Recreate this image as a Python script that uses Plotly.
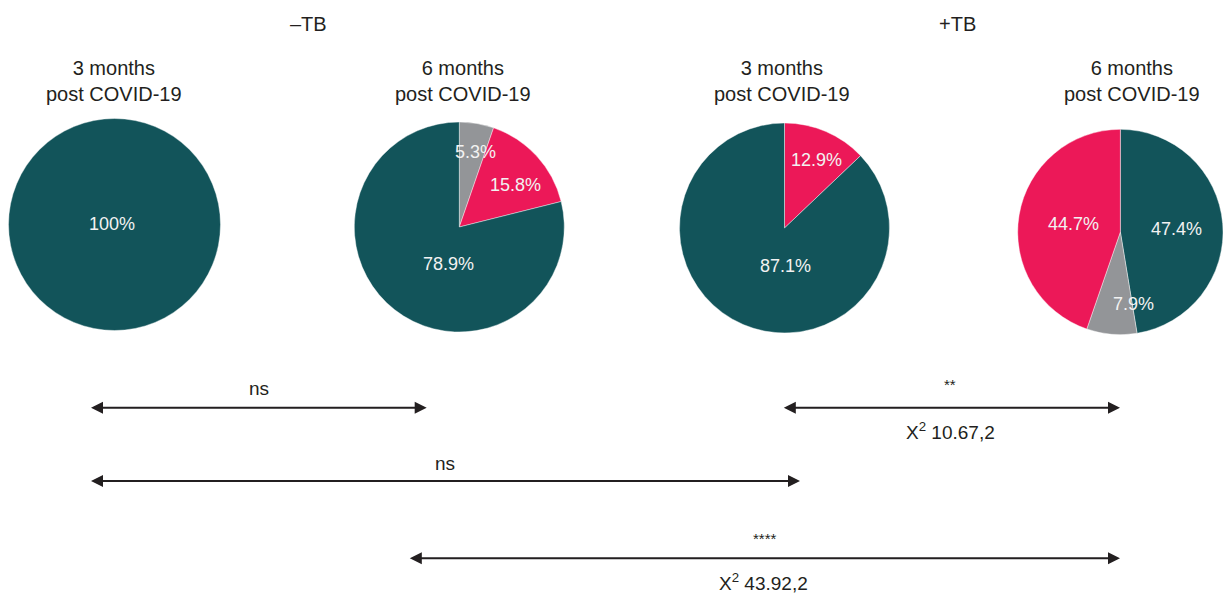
import plotly.graph_objects as go

W, H = 1223, 594

# Outcome shares (%) per group
categories = ["Gray", "Red", "Teal"]
neg_3m = [0.0, 0.0, 100.0]
neg_6m = [5.3, 15.8, 78.9]
pos_3m = [0.0, 12.9, 87.1]
pos_6m_order = ["Teal", "Gray", "Red"]
pos_6m = [47.4, 7.9, 44.7]

group_titles = ["–TB", "+TB"]
panel_titles = ["3 months<br>post COVID-19", "6 months<br>post COVID-19",
                "3 months<br>post COVID-19", "6 months<br>post COVID-19"]

comparisons = [
    # (label above, label below)
    ("ns", ""),
    ("**", "X<sup>2</sup> 10.67,2"),
    ("ns", ""),
    ("****", "X<sup>2</sup> 43.92,2"),
]

colors = {"Teal": "#12545a", "Red": "#ec1858", "Gray": "#939598"}
font_family = "Liberation Sans, Arial, Helvetica, sans-serif"
ink = "#231f20"

# pie geometry in pixels: centre x, centre y, radius
pie_geom = [(114.5, 224.5, 106), (459.3, 227, 105), (784.5, 228, 105), (1122.7, 232, 105)]


def domain(cx, cy, r):
    x0, x1 = (cx - r) / W, min((cx + r) / W, 1.0)
    y0, y1 = 1 - (cy + r) / H, 1 - (cy - r) / H
    return dict(x=[max(x0, 0), x1], y=[y0, y1])


fig = go.Figure()

pies = [
    (categories, neg_3m),
    (categories, neg_6m),
    (categories, pos_3m),
    (pos_6m_order, pos_6m),
]
for (labels, vals), geom in zip(pies, pie_geom):
    fig.add_trace(go.Pie(
        labels=labels, values=vals, sort=False, direction="clockwise",
        rotation=0, textinfo="none", hoverinfo="label+value",
        marker=dict(colors=[colors[c] for c in labels],
                    line=dict(color="rgba(255,255,255,0.7)", width=0.6)),
        domain=domain(*geom), showlegend=False,
    ))

# pixel-space axes for text and arrows
fig.update_layout(
    xaxis=dict(range=[0, W], visible=False, domain=[0, 1], fixedrange=True),
    yaxis=dict(range=[H, 0], visible=False, domain=[0, 1], fixedrange=True),
)

ann = []


def text(x, y, s, size=20, color=ink):
    ann.append(dict(x=x, y=y, xref="x", yref="y", text=s, showarrow=False,
                    xanchor="center", yanchor="middle",
                    font=dict(family=font_family, size=size, color=color)))


text(308, 24, group_titles[0])
text(957, 24, group_titles[1])
for tx, t in zip([114, 463, 782, 1132], panel_titles):
    text(tx, 81, t)

# slice value labels
label_pos = [
    [None, None, (112, 224)],
    [(475, 152), (515, 185), (448, 264)],
    [None, (816, 160), (785, 266)],
    [(1176, 229), (1133, 304), (1073, 224)],
]
for (labels, vals), poss in zip(pies, label_pos):
    for v, p in zip(vals, poss):
        if p is None or v <= 0:
            continue
        s = f"{v:g}%" if v != 100 else "100%"
        text(p[0], p[1], s, size=18, color="#f2f2f2")

# comparison arrows: (x start, x end, y)
arrows = [(89.5, 426.7, 407.7), (782.3, 1120, 407.7), (89.5, 800, 481), (408.3, 1120, 558.3)]
for (x0, x1, y), (above, below) in zip(arrows, comparisons):
    ann.append(dict(x=x1, y=y, ax=x0, ay=y, xref="x", yref="y", axref="x", ayref="y",
                    text="", showarrow=True, arrowhead=2, arrowside="end+start",
                    arrowsize=1.2, arrowwidth=2, arrowcolor=ink,
                    standoff=0, startstandoff=0))

text(259, 388, comparisons[0][0], size=19)
text(950, 384, comparisons[1][0], size=15)
text(950, 431, comparisons[1][1], size=19)
text(445, 463, comparisons[2][0], size=19)
text(765, 538, comparisons[3][0], size=15)
text(763, 582, comparisons[3][1], size=19)

fig.update_layout(
    annotations=ann,
    width=W, height=H,
    margin=dict(l=0, r=0, t=0, b=0),
    paper_bgcolor="white", plot_bgcolor="white",
    font=dict(family=font_family, color=ink),
)

fig.write_html("out.html", config={"displayModeBar": False})
